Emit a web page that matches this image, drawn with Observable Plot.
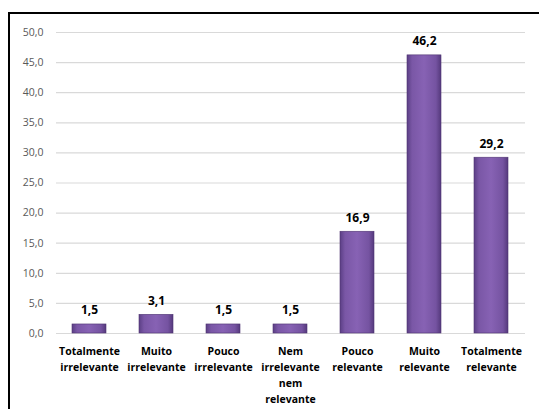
<!DOCTYPE html>
<html><head><meta charset="utf-8">
<script src="https://cdn.jsdelivr.net/npm/d3@7"></script>
<script src="https://cdn.jsdelivr.net/npm/@observablehq/plot@0.6"></script>
<style>
body{margin:0;background:#fff;}
#wrap{position:relative;width:539px;height:409px;overflow:hidden;}
#frame{position:absolute;left:8px;top:12px;width:600px;height:500px;border-left:2px solid #000;border-top:2px solid #000;box-sizing:border-box;}
#chart{position:absolute;left:0;top:0;}
</style></head>
<body><div id="wrap"><div id="frame"></div><div id="chart"></div></div>
<script>
const categories = ["Totalmente\nirrelevante","Muito\nirrelevante","Pouco\nirrelevante","Nem\nirrelevante\nnem\nrelevante","Pouco\nrelevante","Muito\nrelevante","Totalmente\nrelevante"];
const values = [1.5, 3.1, 1.5, 1.5, 16.9, 46.2, 29.2];
const yTicks = [0,5,10,15,20,25,30,35,40,45,50];

const data = categories.map((c,i)=>({cat:c, v:values[i]}));
const fmt = d => d.toFixed(1).replace(".", ",");

const plot = Plot.plot({
  width: 539, height: 409,
  marginLeft: 56, marginRight: 14, marginTop: 32, marginBottom: 76,
  style: {fontFamily: "'Open Sans', sans-serif", background: "transparent"},
  x: {domain: categories, paddingInner: 0.49, paddingOuter: 0.245, axis: null, label: null},
  y: {domain: [0,50], axis: null, label: null},
  marks: [
    Plot.ruleY(yTicks, {stroke: "#d9d9d9", strokeWidth: 1.2}),
    Plot.axisY(yTicks, {tickSize: 0, tickPadding: 13, tickFormat: fmt, fontSize: 10.5, fill: "#595959", label: null}),
    Plot.barY(data, {x: "cat", y: "v", fill: "url(#barGrad)", stroke: "#4f3572", strokeWidth: 0.6}),
    Plot.text(data, {x: "cat", y: "v", text: d => fmt(d.v), dy: -14, fontSize: 12, fontWeight: "bold", fill: "#000"}),
    Plot.axisX(categories, {tickSize: 0, tickPadding: 10, fontSize: 10.5, fontWeight: "bold", fill: "#000", lineHeight: 1.52, textAnchor: "middle", label: null})
  ]
});
const svg = d3.select(plot);
const defs = svg.insert("defs", ":first-child");
const g = defs.append("linearGradient").attr("id","barGrad").attr("x1","0").attr("x2","1").attr("y1","0").attr("y2","0");
g.append("stop").attr("offset","0").attr("stop-color","#5b3f85");
g.append("stop").attr("offset","0.15").attr("stop-color","#7a57a6");
g.append("stop").attr("offset","0.5").attr("stop-color","#8762b4");
g.append("stop").attr("offset","0.85").attr("stop-color","#7553a1");
g.append("stop").attr("offset","1").attr("stop-color","#55397c");
document.getElementById("chart").appendChild(plot);
</script></body></html>
